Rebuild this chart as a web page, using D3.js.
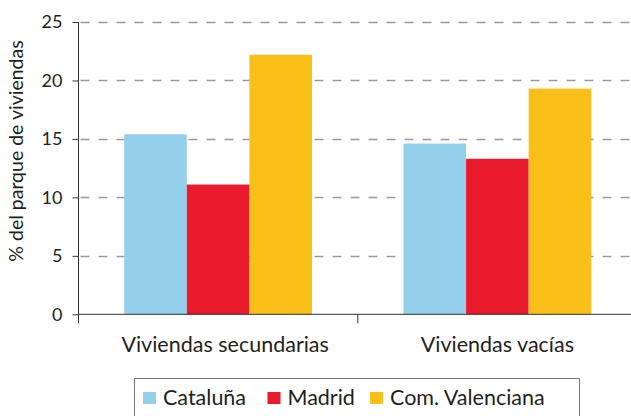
<!DOCTYPE html>
<html><head><meta charset="utf-8">
<script src="https://cdn.jsdelivr.net/npm/d3@7"></script>
<style>body{margin:0;background:#fff}svg{display:block;font-family:Lato,"Open Sans",sans-serif}</style>
</head><body><svg id="c" width="631" height="416"></svg>
<script>
const categories = ["Viviendas secundarias", "Viviendas vacías"];
const seriesNames = ["Cataluña", "Madrid", "Com. Valenciana"];
const cataluna = [15.4, 14.6];
const madrid = [11.1, 13.3];
const valenciana = [22.2, 19.3];
const yTicks = [0, 5, 10, 15, 20, 25];
const colors = ["#94D0EC", "#EA1B2D", "#FBBF1A"];
const seriesValues = [cataluna, madrid, valenciana];

const svg = d3.select("#c");
const textColor = "#231F20";
const x0 = d3.scaleBand().domain(categories).range([78.5, 637]).paddingInner(0).paddingOuter(0);
const x1 = d3.scaleBand().domain(seriesNames).range([0, x0.bandwidth()]).paddingInner(0).paddingOuter(0.73);
const y = d3.scaleLinear().domain([0, 25]).range([314.3, 22]);

// gridlines
svg.append("g").selectAll("line").data(yTicks.filter(d => d > 0)).join("line")
  .attr("x1", 80.5).attr("x2", 631).attr("y1", d => Math.round(y(d)) + 0.5).attr("y2", d => Math.round(y(d)) + 0.5)
  .attr("stroke", "#9a9a9a").attr("stroke-width", 1.4).attr("stroke-dasharray", "9,9");

// bars
const groups = svg.append("g").selectAll("g").data(categories).join("g")
  .attr("transform", d => `translate(${x0(d)},0)`);
groups.selectAll("rect").data((c, i) => seriesNames.map((s, j) => ({s, v: seriesValues[j][i], j}))).join("rect")
  .attr("x", d => x1(d.s)).attr("width", x1.bandwidth())
  .attr("y", d => y(d.v)).attr("height", d => y(0) - y(d.v))
  .attr("fill", d => colors[d.j]);

// y axis
const yAxis = svg.append("g").attr("transform", "translate(78.5,0)")
  .call(d3.axisLeft(y).tickValues(yTicks).tickSize(6).tickPadding(10).tickFormat(d3.format("d")));
yAxis.select(".domain").attr("stroke", "#333").attr("d", `M0,${y(25)}V${y(0)}`);
yAxis.selectAll(".tick line").attr("stroke", "#333");
yAxis.selectAll("text").attr("fill", textColor).style("font-size", "18px").style("font-family", "Lato, sans-serif");

// x axis
const xAxis = svg.append("g").attr("transform", `translate(0,${y(0)})`)
  .call(d3.axisBottom(x0).tickSize(0).tickPadding(22));
xAxis.select(".domain").attr("stroke", "#333").attr("d", `M78.5,0H631`);
xAxis.selectAll("text").attr("fill", textColor).style("font-size", "21.5px").style("font-family", "Lato, sans-serif")
  .attr("dx", (d, i) => i === 0 ? 7 : 0);
// boundary ticks between groups
svg.append("g").selectAll("line").data([x0.range()[0], x0(categories[1])]).join("line")
  .attr("x1", d => d).attr("x2", d => d).attr("y1", y(0)).attr("y2", y(0) + 9)
  .attr("stroke", "#333");

// y title
svg.append("text").attr("transform", "translate(23,151) rotate(-90)")
  .attr("text-anchor", "middle").attr("fill", textColor).style("font-size", "19.5px")
  .text("% del parque de viviendas");

// legend
const lg = svg.append("g");
lg.append("rect").attr("x", 134.5).attr("y", 378.5).attr("width", 445).attr("height", 50)
  .attr("fill", "none").attr("stroke", "#777").attr("stroke-width", 1);
const legendX = [143, 267.5, 370];
const items = lg.selectAll("g.item").data(seriesNames).join("g").attr("class", "item")
  .attr("transform", (d, i) => `translate(${legendX[i]},0)`);
items.append("rect").attr("x", 0).attr("y", 392).attr("width", 13).attr("height", 12).attr("fill", (d, i) => colors[i]);
items.append("text").attr("x", 20).attr("y", 404.5).attr("fill", textColor).style("font-size", "21.5px").text(d => d);
</script></body></html>
